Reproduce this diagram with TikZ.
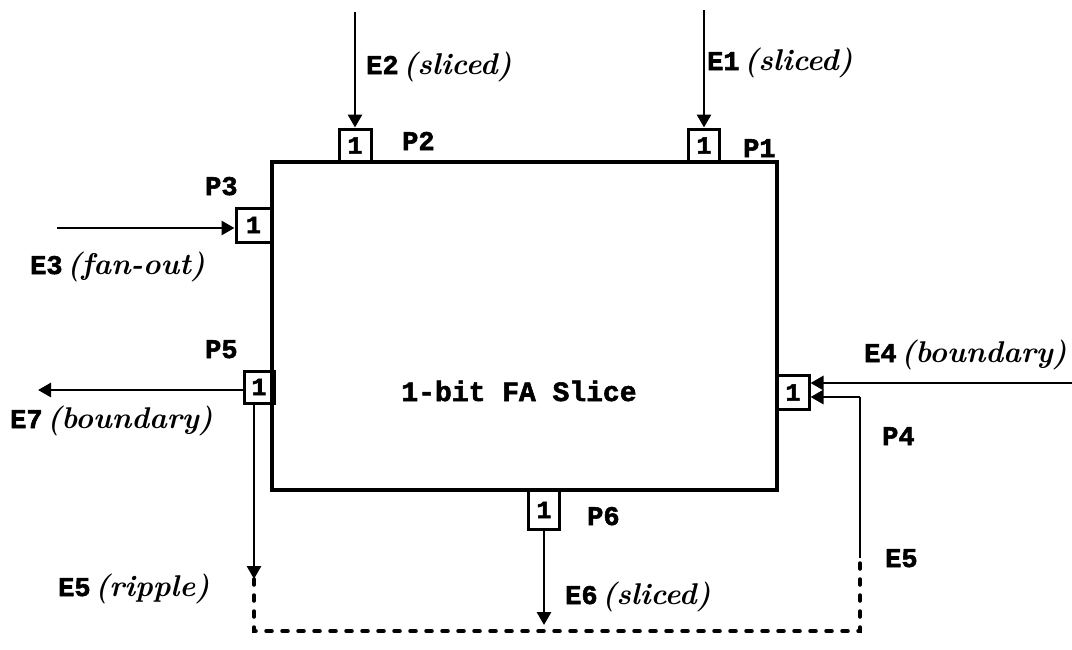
\documentclass[tikz,border=0pt]{standalone}
\usepackage{fontspec}
\setmonofont[BoldFeatures={FakeBold=2}]{Liberation Mono}
\usetikzlibrary{arrows.meta}
\newcommand{\itx}[1]{{\fontsize{30}{32}\selectfont\rmfamily\bfseries\itshape #1}}
\tikzset{
  lbl/.style={font=\fontsize{27}{30}\selectfont\ttfamily\bfseries, inner sep=0pt, anchor=base west},
  ttl/.style={font=\fontsize{28}{30}\selectfont\ttfamily\bfseries, inner sep=0pt},
  port/.style={draw, line width=3pt, inner sep=0pt, font=\fontsize{25}{26}\selectfont\ttfamily\bfseries},
  slice/.style={draw, line width=4.5pt, inner sep=0pt},
  arr/.style={line width=2.8pt, -{Triangle[length=13pt,width=14pt]}},
  wire/.style={line width=2.8pt},
  dsh/.style={line width=3.5pt, line cap=round, dash pattern=on 6pt off 10pt},
}
\begin{document}
\begin{tikzpicture}[x=1pt,y=-1pt]
\path[use as bounding box] (0,0) rectangle (1072,649);
% main slice
\node[slice, minimum width=505, minimum height=328] (fa) at (524.5,326) {};
\node[ttl] (title) at (519,391) {1-bit FA Slice};
% ports
\node[port, minimum width=32, minimum height=33] (p2box) at (355,145.5) {1};
\node[port, minimum width=31, minimum height=33] (p1box) at (704,145.5) {1};
\node[port, minimum width=35, minimum height=34] (p3box) at (253.5,225) {1};
\node[port, minimum width=30, minimum height=32] (p5box) at (259,387) {1};
\node[port, minimum width=32, minimum height=34] (p4box) at (793,392.5) {1};
\node[port, minimum width=31, minimum height=39] (p6box) at (544,510) {1};
% free ends
\coordinate (e2s) at (355,12);
\coordinate (e1s) at (704,10);
\coordinate (e3s) at (57,228);
\coordinate (e7e) at (38,390);
\coordinate (e4s) at (1072,383);
\coordinate (e6e) at (544,625);
\coordinate (ripT) at (254,579);
\coordinate (c1) at (254,631);
\coordinate (c2) at (860,631);
\coordinate (c3) at (860,558);
\coordinate (c4) at (860,397);
% connectors
\draw[arr] (e2s) -- (p2box.north);
\draw[arr] (e1s) -- (p1box.north);
\draw[arr] (e3s) -- (e3s -| p3box.west);
\draw[arr] (e7e -| p5box.west) -- (e7e);
\draw[arr] (e4s) -- (e4s -| p4box.east);
\draw[arr] (p6box.south) -- (e6e);
\draw[arr] (ripT |- p5box.south) -- (ripT);
\draw[dsh] (ripT) -- (c1) -- (c2) -- (c3);
\draw[wire] (c3) -- (c4);
\draw[arr] (c4) -- (c4 -| p4box.east);
% labels
\node[lbl] (le2) at (366,74) {E2\,\itx{(sliced)}};
\node[lbl] (le1) at (707,70) {E1\,\itx{(sliced)}};
\node[lbl] (lp2) at (402,150) {P2};
\node[lbl] (lp1) at (743,157) {P1};
\node[lbl] (lp3) at (205,195) {P3};
\node[lbl] (le3) at (30,274) {E3\,\itx{(fan-out)}};
\node[lbl] (lp5) at (205,358) {P5};
\node[lbl] (le7) at (10,428) {E7\,\itx{(boundary)}};
\node[lbl] (le4) at (864,362) {E4\,\itx{(boundary)}};
\node[lbl] (lp4) at (882,445) {P4};
\node[lbl] (lp6) at (587,525) {P6};
\node[lbl] (le5r) at (885,567) {E5};
\node[lbl] (le5) at (58,596) {E5\,\itx{(ripple)}};
\node[lbl] (le6) at (565,604) {E6\,\itx{(sliced)}};
\end{tikzpicture}
\end{document}
